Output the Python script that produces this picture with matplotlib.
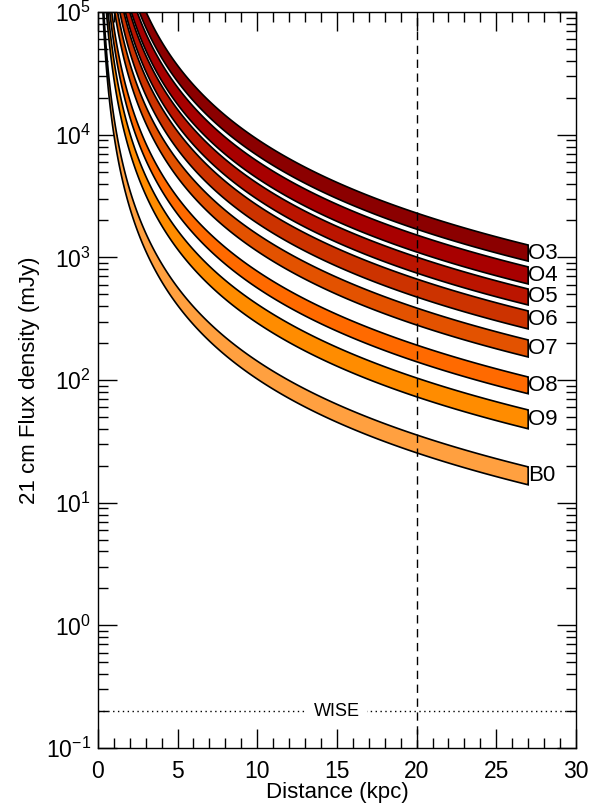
import numpy as np
import matplotlib
matplotlib.use('Agg')
import matplotlib.pyplot as plt
from matplotlib.ticker import MultipleLocator, LogLocator, NullFormatter

plt.rcParams['font.family'] = ['Liberation Sans', 'DejaVu Sans']
plt.rcParams['mathtext.fontset'] = 'custom'
plt.rcParams['mathtext.rm'] = 'Liberation Sans'

# Tipos espectrales y flujo (mJy) leido a 20 kpc: borde superior e inferior de cada banda
tipos = ['O3', 'O4', 'O5', 'O6', 'O7', 'O8', 'O9', 'B0']
flujo_sup_20 = [2300, 1525, 1007, 667, 387, 193, 104, 35.7]
flujo_inf_20 = [1700, 1107, 746, 476, 281, 141, 73, 25.5]
colores = ['#8b0000', '#a80000', '#bb1500', '#cc3300', '#e35200',
           '#ff6a00', '#ff8c00', '#ffa040']

d_ref = 20.0
d_max = 27.0
wise_limite = 0.2

fig = plt.figure(figsize=(6, 8.08), dpi=100)
ax = fig.add_axes([0.163, 0.0743, 0.797, 0.9107])

# Bandas: ley del inverso del cuadrado a partir de los valores leidos
d = np.linspace(0.25, d_max, 600)
for tipo, fs, fi, col in zip(tipos, flujo_sup_20, flujo_inf_20, colores):
    sup = fs * (d_ref / d) ** 2
    inf = fi * (d_ref / d) ** 2
    xs = np.concatenate([d, d[::-1]])
    ys = np.concatenate([sup, inf[::-1]])
    ax.fill(xs, ys, facecolor=col, edgecolor='black', linewidth=1.2, zorder=2)
    y_lab = np.sqrt(fs * fi) * (d_ref / d_max) ** 2
    ax.text(d_max + 0.02, y_lab, tipo, fontsize=16, va='center', ha='left', zorder=4)

# Distancia limite (20 kpc)
ax.axvline(d_ref, color='black', linestyle=(0, (6, 4)), linewidth=1.0, zorder=3)

# Limite de sensibilidad de WISE
ax.axhline(wise_limite, color='black', linestyle=(0, (1, 2.5)), linewidth=1.0, zorder=1)
ax.text(15.0, wise_limite, 'WISE', fontsize=13, ha='center', va='center', zorder=4,
        bbox=dict(facecolor='white', edgecolor='none', pad=5))

ax.set_xlim(0, 30)
ax.set_yscale('log')
ax.set_ylim(0.1, 1e5)

ax.xaxis.set_major_locator(MultipleLocator(5))
ax.xaxis.set_minor_locator(MultipleLocator(1))
ax.yaxis.set_minor_locator(LogLocator(base=10, subs=np.arange(2, 10), numticks=20))
ax.yaxis.set_minor_formatter(NullFormatter())
ax.set_yticks([10.0 ** e for e in range(-1, 6)])
ax.set_yticklabels([r'$10^{%d}$' % e for e in range(-1, 6)])
ax.set_ylim(0.1, 1e5)

ax.tick_params(which='both', direction='in', top=True, right=True, labelsize=16.5, width=1.0)
ax.tick_params(which='major', length=14)
ax.tick_params(which='minor', length=7)
ax.tick_params(axis='x', pad=9)
ax.tick_params(axis='y', pad=5)

for sp in ax.spines.values():
    sp.set_linewidth(1.0)

ax.set_xlabel('Distance (kpc)', fontsize=16, labelpad=-1)
ax.set_ylabel('21 cm Flux density (mJy)', fontsize=16, labelpad=4)

fig.savefig('out.png', dpi=100)
